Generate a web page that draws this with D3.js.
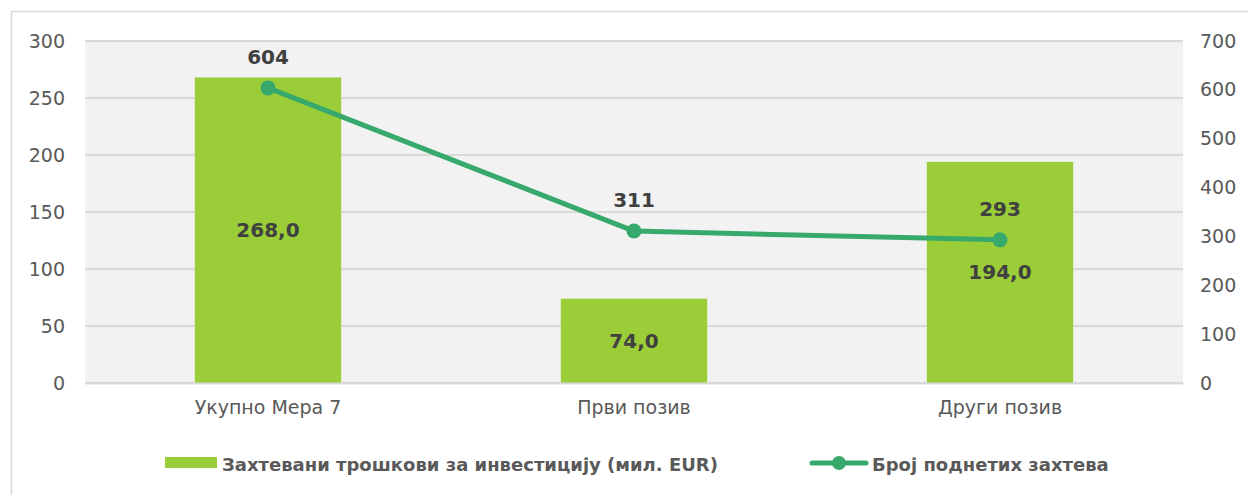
<!DOCTYPE html>
<html>
<head>
<meta charset="utf-8">
<script src="https://cdn.jsdelivr.net/npm/d3@7"></script>
<style>
  body { margin: 0; background: #fff; }
  svg text { font-family: "DejaVu Sans", sans-serif !important; }
</style>
</head>
<body>
<div id="wrapper"></div>
<script>
// chart data
const categories = ["Укупно Мера 7", "Први позив", "Други позив"]
const costValues = [268.0, 74.0, 194.0]
const requestCounts = [604, 311, 293]
const leftTicks = [0, 50, 100, 150, 200, 250, 300]
const rightTicks = [0, 100, 200, 300, 400, 500, 600, 700]
const costLabel = "Захтевани трошкови за инвестицију (мил. EUR)"
const countLabel = "Број поднетих захтева"

function drawChart() {
  const dimensions = {
    width: 1248,
    height: 495,
    margin: { top: 41, right: 65, bottom: 112, left: 85 },
  }
  dimensions.boundedWidth = dimensions.width - dimensions.margin.left - dimensions.margin.right
  dimensions.boundedHeight = dimensions.height - dimensions.margin.top - dimensions.margin.bottom

  const barColor = "#9acd37"
  const lineColor = "#38a96d"

  const wrapper = d3.select("#wrapper")
    .append("svg")
      .attr("width", dimensions.width)
      .attr("height", dimensions.height)

  // outer frame, cut off on right and bottom like the reference
  wrapper.append("rect")
      .attr("x", 11.5)
      .attr("y", 11.5)
      .attr("width", dimensions.width)
      .attr("height", dimensions.height)
      .attr("fill", "none")
      .attr("stroke", "#d9d9d9")
      .attr("stroke-width", 1.5)

  const bounds = wrapper.append("g")
      .attr("transform", `translate(${dimensions.margin.left},${dimensions.margin.top})`)

  const xScale = d3.scaleBand()
      .domain(categories)
      .range([0, dimensions.boundedWidth])
      .paddingInner(0.6)
      .paddingOuter(0.3)

  const yLeft = d3.scaleLinear()
      .domain([0, 300])
      .range([dimensions.boundedHeight, 0])
  const yRight = d3.scaleLinear()
      .domain([0, 700])
      .range([dimensions.boundedHeight, 0])

  // plot background
  bounds.append("rect")
      .attr("width", dimensions.boundedWidth)
      .attr("height", dimensions.boundedHeight)
      .attr("fill", "#f2f2f2")

  // gridlines
  bounds.append("g")
    .selectAll("line")
    .data(leftTicks)
    .join("line")
      .attr("x1", 0)
      .attr("x2", dimensions.boundedWidth)
      .attr("y1", d => yLeft(d))
      .attr("y2", d => yLeft(d))
      .attr("stroke", "#d9d9d9")
      .attr("stroke-width", 2)

  // bars
  bounds.append("g")
    .selectAll("rect")
    .data(categories)
    .join("rect")
      .attr("x", d => xScale(d))
      .attr("y", (d, i) => yLeft(costValues[i]))
      .attr("width", xScale.bandwidth())
      .attr("height", (d, i) => dimensions.boundedHeight - yLeft(costValues[i]))
      .attr("fill", barColor)

  // bar labels in middle of bars
  bounds.append("g")
    .selectAll("text")
    .data(categories)
    .join("text")
      .attr("x", d => xScale(d) + xScale.bandwidth() / 2)
      .attr("y", (d, i) => (yLeft(costValues[i]) + dimensions.boundedHeight) / 2)
      .attr("dy", "0.35em")
      .attr("text-anchor", "middle")
      .attr("font-size", 20)
      .attr("font-weight", "bold")
      .attr("fill", "#404040")
      .text((d, i) => d3.format(".1f")(costValues[i]).replace(".", ","))

  // line
  const cx = d => xScale(d) + xScale.bandwidth() / 2
  const lineGenerator = d3.line()
      .x(d => cx(d))
      .y((d, i) => yRight(requestCounts[i]))

  bounds.append("path")
      .datum(categories)
      .attr("d", lineGenerator)
      .attr("fill", "none")
      .attr("stroke", lineColor)
      .attr("stroke-width", 5)
      .attr("stroke-linejoin", "round")

  bounds.append("g")
    .selectAll("circle")
    .data(categories)
    .join("circle")
      .attr("cx", cx)
      .attr("cy", (d, i) => yRight(requestCounts[i]))
      .attr("r", 7.5)
      .attr("fill", lineColor)

  bounds.append("g")
    .selectAll("text")
    .data(categories)
    .join("text")
      .attr("x", cx)
      .attr("y", (d, i) => yRight(requestCounts[i]) - 31)
      .attr("dy", "0.35em")
      .attr("text-anchor", "middle")
      .attr("font-size", 20)
      .attr("font-weight", "bold")
      .attr("fill", "#404040")
      .text((d, i) => requestCounts[i])

  // axes
  const leftAxis = bounds.append("g")
      .call(d3.axisLeft(yLeft).tickValues(leftTicks).tickSize(0).tickPadding(20))
  const rightAxis = bounds.append("g")
      .attr("transform", `translate(${dimensions.boundedWidth},0)`)
      .call(d3.axisRight(yRight).tickValues(rightTicks).tickSize(0).tickPadding(17))
  const xAxis = bounds.append("g")
      .attr("transform", `translate(0,${dimensions.boundedHeight})`)
      .call(d3.axisBottom(xScale).tickSize(0).tickPadding(18))

  ;[leftAxis, rightAxis].forEach(ax => {
    ax.select(".domain").remove()
    ax.attr("font-family", null)
    ax.selectAll("text")
        .attr("font-size", 19)
        .attr("fill", "#595959")
  })
  xAxis.attr("font-family", null)
  xAxis.select(".domain")
      .attr("stroke", "#d9d9d9")
      .attr("stroke-width", 2)
  xAxis.selectAll("text")
      .attr("font-size", 19)
      .attr("fill", "#595959")

  // legend
  const legend = wrapper.append("g")
      .attr("transform", "translate(0,465)")
  legend.append("rect")
      .attr("x", 165)
      .attr("y", -8)
      .attr("width", 52)
      .attr("height", 11)
      .attr("fill", barColor)
  legend.append("text")
      .attr("x", 222)
      .attr("y", 0)
      .attr("dy", "0.35em")
      .attr("font-size", 18)
      .attr("font-weight", "bold")
      .attr("fill", "#595959")
      .text(costLabel)
  legend.append("line")
      .attr("x1", 812)
      .attr("x2", 866)
      .attr("y1", -2)
      .attr("y2", -2)
      .attr("stroke", lineColor)
      .attr("stroke-width", 5)
      .attr("stroke-linecap", "round")
  legend.append("circle")
      .attr("cx", 839)
      .attr("cy", -2)
      .attr("r", 7)
      .attr("fill", lineColor)
  legend.append("text")
      .attr("x", 872)
      .attr("y", 0)
      .attr("dy", "0.35em")
      .attr("font-size", 18)
      .attr("font-weight", "bold")
      .attr("fill", "#595959")
      .text(countLabel)
}
drawChart()
</script>
</body>
</html>
